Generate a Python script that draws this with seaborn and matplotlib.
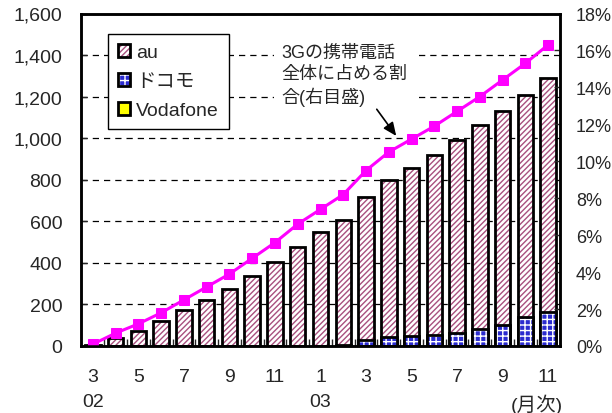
import numpy as np
import pandas as pd
import matplotlib
matplotlib.use("Agg")
import matplotlib.pyplot as plt
import seaborn as sns
from matplotlib.patches import Patch
from matplotlib.legend_handler import HandlerTuple
from matplotlib.ticker import FuncFormatter, FixedLocator

# monthly data, 2002/03 - 2003/11
months = ["3", "4", "5", "6", "7", "8", "9", "10", "11", "12",
          "1", "2", "3", "4", "5", "6", "7", "8", "9", "10", "11"]
tick_labels = ["3\n02", "5", "7", "9", "11", "1\n03", "3", "5", "7", "9", "11"]
total = [4, 40, 74, 119, 172, 222, 275, 338, 403, 478, 547,
         606, 716, 797, 856, 920, 989, 1062, 1129, 1210, 1290]
docomo = [0, 0, 0, 0, 0, 0, 0, 0, 0, 0, 1,
          5, 29, 42, 48, 53, 64, 80, 101, 138, 165]
vodafone = [0] * 21
au = [t - d - v for t, d, v in zip(total, docomo, vodafone)]
share = [0.1, 0.7, 1.2, 1.8, 2.5, 3.2, 3.9, 4.75, 5.6, 6.6, 7.4,
         8.2, 9.5, 10.5, 11.2, 11.9, 12.7, 13.5, 14.4, 15.3, 16.3]

AU_C = "#A8507E"
DCM_C = "#2B2BCF"
VF_C = "#FFFF00"
MAG = "#FF00FF"

sns.set_style("ticks")
plt.rcParams["font.family"] = ["Liberation Sans", "Noto Sans CJK JP"]
plt.rcParams["hatch.linewidth"] = 1.0

n = len(months)
df = pd.DataFrame({"pos": np.arange(n), "au": au, "docomo": docomo,
                   "vodafone": vodafone, "share": share})
df["top"] = df["vodafone"] + df["docomo"] + df["au"]
df["mid"] = df["vodafone"] + df["docomo"]

fig = plt.figure(figsize=(6.12, 4.14), dpi=100)
ax = fig.add_axes([81 / 612, 1 - 347 / 414, 479 / 612, 332.5 / 414])

W = 0.68
AU_HATCH = "//////"
DCM_HATCH = "+++"


def layer(col, face, hatch=None, hcolor=None):
    start = len(ax.patches)
    sns.barplot(data=df, x="pos", y=col, color=face, saturation=1,
                width=W, linewidth=0, ax=ax, errorbar=None)
    if hatch:
        for p in ax.patches[start:]:
            p.set_hatch(hatch)
            p.set_edgecolor(hcolor)
            p.set_linewidth(0)
    # black outline
    sns.barplot(data=df, x="pos", y=col, color="black", fill=False,
                width=W, linewidth=2, ax=ax, errorbar=None)


layer("top", "white", AU_HATCH, AU_C)
layer("mid", DCM_C, DCM_HATCH, "white")
layer("vodafone", VF_C)

ax.set_ylim(0, 1600)
ax.set_yticks(range(0, 1601, 200))
ax.yaxis.set_major_formatter(FuncFormatter(lambda v, p: f"{v:,.0f}"))
ax.yaxis.grid(True, linestyle=(0, (5, 4)), color="black", linewidth=0.9)
ax.set_axisbelow(True)
ax.set_xlabel("")
ax.set_ylabel("")

ax.xaxis.set_major_locator(FixedLocator(list(range(0, n, 2))))
ax.set_xticklabels(tick_labels)
for lbl in ax.get_xticklabels():
    lbl.set_linespacing(1.6)
ax.xaxis.set_minor_locator(FixedLocator([k + 0.5 for k in range(n - 1)]))
ax.tick_params(axis="x", which="major", length=0, pad=16, labelsize=14)
ax.tick_params(axis="x", which="minor", direction="in", length=5, width=1)
ax.tick_params(axis="y", direction="in", length=4, width=1, pad=13.5, labelsize=14)

# share line on right axis
ax2 = ax.twinx()
sns.lineplot(data=df, x="pos", y="share", ax=ax2, color=MAG, marker="s",
             markersize=7.5, markeredgecolor=MAG, linewidth=2.2)
ax2.set_ylim(0, 18)
ax2.set_yticks(range(0, 19, 2))
ax2.yaxis.set_major_formatter(FuncFormatter(lambda v, p: f"{v:.0f}%"))
ax2.tick_params(axis="y", direction="in", length=4, width=1, pad=11.5, labelsize=13)
ax2.set_xlabel("")
ax2.set_ylabel("")
ax.set_xlim(-0.525, n - 0.475)

for a in (ax, ax2):
    for s in a.spines.values():
        s.set_visible(True)
        s.set_linewidth(1.8)
        s.set_color("black")

# annotation
ax.text(8.3, 1455, "3Gの携帯電話\n全体に占める割\n合(右目盛)", fontsize=13,
        ha="left", va="top", linespacing=1.3,
        bbox=dict(boxstyle="square,pad=0.45", facecolor="white", edgecolor="none"))
ax.annotate("", xy=(13.4, 1000), xytext=(12.4, 1150),
            arrowprops=dict(arrowstyle="-|>,head_length=0.8,head_width=0.35",
                            color="black", lw=1.2))

ax.text(19.5, -0.175, "(月次)", transform=ax.get_xaxis_transform(),
        ha="center", va="center", fontsize=14)

# legend
handles = [
    (Patch(facecolor="white", edgecolor=AU_C, hatch=AU_HATCH, linewidth=0),
     Patch(fill=False, edgecolor="black", linewidth=2)),
    (Patch(facecolor=DCM_C, edgecolor="white", hatch=DCM_HATCH, linewidth=0),
     Patch(fill=False, edgecolor="black", linewidth=2)),
    (Patch(facecolor=VF_C, edgecolor="black", linewidth=2),),
]
leg = ax2.legend(handles, ["au", "ドコモ", "Vodafone"],
                 handler_map={tuple: HandlerTuple(ndivide=1, pad=0)},
                 loc="upper left", bbox_to_anchor=(108 / 612, 1 - 35 / 414),
                 bbox_transform=fig.transFigure, borderaxespad=0,
                 fontsize=14, handlelength=0.65, handleheight=0.65,
                 handletextpad=0.3, labelspacing=0.6, borderpad=0.5,
                 frameon=True, fancybox=False, shadow=False, framealpha=1)
leg.get_frame().set_edgecolor("black")
leg.get_frame().set_linewidth(1)

fig.savefig("out.png", dpi=100)
